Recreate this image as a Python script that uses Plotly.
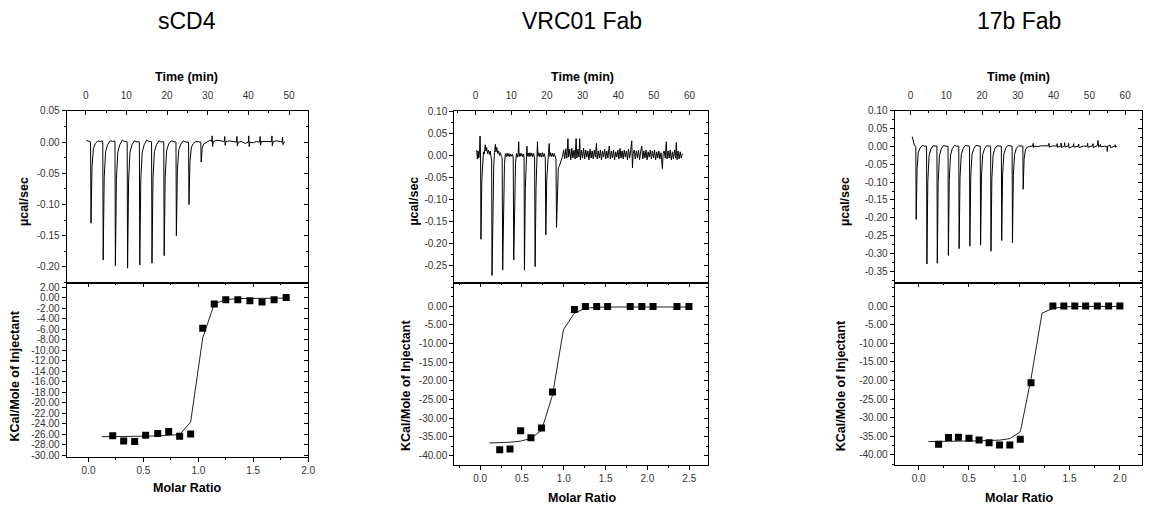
import plotly.graph_objects as go

# ---------------- data ----------------
panel_titles = ["sCD4", "VRC01 Fab", "17b Fab"]

# raw thermograms: (time [min], power [µcal/sec]) vertices
scd4_raw = [
    (0.2, 0.003), (0.7, 0.001), (1.2, 0.000), (1.3, -0.130), (1.55, -0.040), (1.9, -0.010), (2.4, -0.002), (3.0, 0.002), (3.6, 0.001), (4.1, 0.002),
    (4.2, 0.000), (4.3, -0.189), (4.55, -0.057), (4.9, -0.015), (5.4, -0.004), (6.0, 0.002), (6.6, 0.001), (7.1, 0.002),
    (7.2, 0.000), (7.3, -0.198), (7.55, -0.060), (7.9, -0.016), (8.4, -0.004), (9.0, 0.003), (9.6, 0.001), (10.1, 0.001),
    (10.2, 0.000), (10.3, -0.202), (10.55, -0.061), (10.9, -0.016), (11.4, -0.004), (12.0, 0.002), (12.6, 0.000), (13.1, 0.001),
    (13.2, 0.000), (13.3, -0.197), (13.55, -0.059), (13.9, -0.016), (14.4, -0.004), (15.0, 0.003), (15.6, 0.001), (16.1, 0.001),
    (16.2, 0.000), (16.3, -0.194), (16.55, -0.058), (16.9, -0.015), (17.4, -0.004), (18.0, 0.002), (18.6, 0.000), (19.1, 0.001),
    (19.2, 0.000), (19.3, -0.182), (19.55, -0.055), (19.9, -0.014), (20.4, -0.003), (21.0, 0.002), (21.6, 0.001), (22.1, 0.000),
    (22.2, 0.000), (22.3, -0.150), (22.55, -0.045), (22.9, -0.012), (23.4, -0.003), (24.0, 0.002), (24.6, 0.000), (25.2, 0.000),
    (25.3, 0.000), (25.4, -0.100), (25.65, -0.030), (26.0, -0.008), (26.5, -0.002), (27.1, 0.001), (27.7, 0.000), (28.2, 0.000),
    (28.3, 0.000), (28.4, -0.032), (28.65, -0.010), (29.0, -0.003), (29.5, -0.001), (30.1, 0.002),
    (30.6, 0.003), (31.0, 0.001), (31.1, 0.010), (31.2, -0.007), (31.4, 0.001), (32.3, 0.003), (33.2, 0.002), (34.1, 0.001),
    (34.2, 0.009), (34.3, -0.005), (34.5, 0.001), (35.4, 0.002), (36.3, 0.001), (37.1, 0.000), (37.2, 0.009), (37.3, -0.006),
    (37.5, 0.000), (38.3, 0.001), (39.2, -0.002), (40.0, 0.000), (40.1, 0.010), (40.2, -0.007), (40.4, 0.000), (41.2, -0.001),
    (42.0, 0.001), (42.8, 0.000), (42.9, 0.009), (43.0, -0.005), (43.2, 0.001), (44.1, 0.001), (45.0, 0.000), (45.7, 0.001),
    (45.8, 0.010), (45.9, -0.006), (46.1, 0.001), (47.0, 0.002), (47.8, 0.001), (48.3, 0.000), (48.4, 0.008), (48.5, -0.004),
    (48.9, 0.001),
]

vrc01_raw = [
    (0.3, 0.012), (0.5, -0.008), (0.7, 0.010), (0.9, -0.006), (1.1, 0.008), (1.25, 0.044), (1.4, -0.006),
    (1.5, -0.190), (1.75, -0.055), (2.0, -0.015), (2.2, 0.008), (2.45, 0.003), (2.7, 0.024), (2.9, 0.010), (3.1, 0.018),
    (3.35, 0.004), (3.6, 0.012), (3.85, 0.002), (4.1, 0.010), (4.35, -0.004), (4.5, -0.010),
    (4.6, -0.272), (4.85, -0.080), (5.1, -0.020), (5.3, 0.006), (5.55, 0.025), (5.7, 0.008), (5.95, 0.018), (6.2, 0.004),
    (6.45, 0.010), (6.7, 0.000), (6.95, 0.006), (7.2, -0.002), (7.45, -0.006),
    (7.6, -0.260), (7.85, -0.075), (8.1, -0.018), (8.35, 0.004), (8.6, -0.003), (8.85, 0.005), (9.1, -0.002), (9.35, 0.004),
    (9.6, -0.003), (9.85, 0.003), (10.1, -0.002), (10.35, 0.002), (10.55, -0.006),
    (10.7, -0.237), (10.95, -0.070), (11.2, -0.018), (11.45, 0.004), (11.7, -0.004), (11.95, 0.006), (12.1, 0.031), (12.2, -0.003),
    (12.45, 0.005), (12.7, -0.002), (12.95, 0.004), (13.2, -0.003), (13.45, 0.003), (13.6, -0.006),
    (13.7, -0.260), (13.95, -0.075), (14.2, -0.018), (14.4, 0.021), (14.5, -0.002), (14.75, 0.005), (15.0, -0.003), (15.25, 0.006),
    (15.5, -0.002), (15.75, 0.005), (16.0, -0.003), (16.25, 0.004), (16.55, -0.006),
    (16.7, -0.252), (16.95, -0.075), (17.2, -0.018), (17.35, 0.031), (17.5, -0.002), (17.75, 0.006), (18.0, -0.003), (18.25, 0.005),
    (18.5, -0.004), (18.75, 0.006), (19.0, -0.003), (19.25, 0.004), (19.55, -0.006),
    (19.7, -0.180), (19.95, -0.055), (20.2, -0.012), (20.45, 0.006), (20.65, 0.027), (20.8, -0.002), (21.05, 0.006), (21.3, -0.003),
    (21.55, 0.005), (21.8, -0.003), (22.05, 0.004), (22.3, -0.004), (22.55, -0.008),
    (22.7, -0.163), (22.95, -0.050), (23.2, -0.028), (23.5, -0.024), (23.8, -0.018), (24.1, -0.010), (24.4, -0.002),
    (24.7, 0.012), (25.0, -0.008), (25.3, 0.015), (25.6, -0.006), (25.9, 0.038), (26.1, -0.004), (26.4, 0.014), (26.7, -0.010),
    (27.0, 0.016), (27.3, -0.006), (27.6, 0.012), (27.9, -0.008), (28.2, 0.038), (28.4, -0.006), (28.7, 0.014), (29.0, -0.004),
    (29.2, 0.038), (29.4, -0.010), (29.7, 0.012), (30.0, -0.006), (30.3, 0.016), (30.6, -0.008), (30.9, 0.012), (31.2, -0.004),
    (31.5, 0.010), (31.8, -0.010), (32.1, 0.014), (32.4, -0.006), (32.7, 0.010), (33.0, -0.008), (33.3, 0.012), (33.6, -0.004),
    (33.9, 0.027), (34.1, -0.008), (34.4, 0.010), (34.7, -0.006), (35.0, 0.012), (35.3, -0.010), (35.6, 0.010), (35.9, -0.004),
    (36.2, 0.014), (36.5, -0.008), (36.8, 0.010), (37.1, -0.006), (37.5, 0.021), (37.8, -0.008), (38.1, 0.010), (38.4, -0.006),
    (38.7, 0.012), (39.0, -0.010), (39.3, 0.008), (39.6, -0.004), (39.9, 0.012), (40.2, -0.008), (40.5, 0.016), (40.8, -0.006),
    (41.1, 0.010), (41.4, -0.008), (41.7, 0.012), (42.0, -0.004), (42.3, 0.010), (42.6, -0.010), (42.9, 0.014), (43.2, -0.006),
    (43.5, 0.010), (43.8, 0.033), (44.0, -0.028), (44.2, 0.004), (44.5, 0.012), (44.8, -0.008), (45.1, 0.010), (45.4, -0.006),
    (45.7, 0.012), (46.0, -0.010), (46.3, 0.008), (46.6, 0.021), (46.9, -0.008), (47.2, 0.010), (47.5, -0.006), (47.8, 0.012),
    (48.1, -0.010), (48.4, 0.008), (48.7, -0.004), (49.0, 0.012), (49.3, -0.008), (49.6, 0.010), (49.9, -0.006), (50.2, 0.012),
    (50.5, -0.010), (50.8, 0.008), (51.1, -0.006), (51.4, 0.010), (51.7, -0.008), (52.0, 0.006), (52.4, -0.030), (52.6, 0.004),
    (52.9, 0.010), (53.2, -0.006), (53.5, 0.031), (53.7, -0.008), (54.0, 0.010), (54.3, -0.006), (54.6, 0.012), (54.9, -0.010),
    (55.2, 0.008), (55.5, -0.008), (55.8, 0.012), (56.1, -0.006), (56.3, 0.029), (56.5, -0.010), (56.8, 0.010), (57.1, -0.008),
    (57.4, 0.008), (57.7, -0.006), (58.0, 0.004),
]

b17_raw = [
    (0.5, 0.028), (0.8, 0.016), (1.1, 0.003), (1.5, 0.000),
    (1.6, -0.205), (1.85, -0.062), (2.2, -0.016), (2.7, -0.004), (3.3, 0.003), (3.9, 0.001), (4.5, 0.001),
    (4.6, -0.330), (4.85, -0.099), (5.2, -0.026), (5.7, -0.007), (6.3, 0.002), (6.9, 0.001), (7.4, 0.001),
    (7.5, -0.328), (7.75, -0.098), (8.1, -0.026), (8.6, -0.007), (9.2, 0.003), (9.8, 0.001), (10.5, 0.001),
    (10.6, -0.306), (10.85, -0.092), (11.2, -0.024), (11.7, -0.006), (12.3, 0.003), (12.9, 0.001), (13.5, 0.001),
    (13.6, -0.287), (13.85, -0.086), (14.2, -0.023), (14.7, -0.006), (15.3, 0.003), (15.9, 0.001), (16.5, 0.001),
    (16.6, -0.280), (16.85, -0.084), (17.2, -0.022), (17.7, -0.006), (18.3, 0.003), (18.9, 0.001), (19.5, 0.001),
    (19.6, -0.277), (19.85, -0.083), (20.2, -0.022), (20.7, -0.006), (21.3, 0.002), (21.9, 0.001), (22.4, 0.001),
    (22.5, -0.294), (22.75, -0.088), (23.1, -0.024), (23.6, -0.006), (24.2, 0.002), (24.8, 0.001), (25.4, 0.001),
    (25.5, -0.264), (25.75, -0.079), (26.1, -0.021), (26.6, -0.005), (27.2, 0.003), (27.8, 0.001), (28.4, 0.001),
    (28.5, -0.270), (28.75, -0.081), (29.1, -0.022), (29.6, -0.005), (30.2, 0.002), (30.8, 0.001), (31.4, 0.001),
    (31.5, -0.120), (31.75, -0.036), (32.1, -0.010), (32.6, -0.002), (33.2, 0.000),
    (34.2, 0.001), (34.3, 0.009), (34.4, -0.003), (34.6, 0.001), (35.6, 0.000), (36.6, 0.002), (37.6, 0.001), (38.6, 0.002),
    (38.7, 0.009), (38.8, -0.002), (39.8, 0.002), (40.9, 0.001), (41.0, 0.008), (41.1, -0.002), (42.0, 0.001), (42.1, 0.010),
    (42.2, -0.003), (43.0, 0.002), (43.1, 0.011), (43.2, -0.002), (44.1, 0.002), (44.2, 0.009), (44.3, -0.004), (45.5, 0.001),
    (45.6, 0.008), (45.7, -0.002), (46.9, 0.001), (47.0, 0.007), (47.1, -0.003), (48.3, 0.001), (49.4, 0.001), (49.5, 0.009),
    (49.6, -0.002), (50.9, 0.002), (51.0, 0.008), (51.1, -0.003), (52.2, 0.002), (52.4, 0.017), (52.6, -0.002), (53.1, 0.006),
    (53.2, -0.001), (54.2, 0.001), (54.9, 0.000), (55.0, -0.014), (55.1, 0.001), (55.8, 0.004), (55.9, -0.003), (57.1, 0.001),
    (57.2, 0.005), (57.3, -0.002), (57.7, 0.000),
]

# integrated heats (molar ratio, kcal/mol of injectant)
scd4_ratio = [0.22, 0.32, 0.42, 0.52, 0.63, 0.73, 0.83, 0.93, 1.04, 1.145, 1.25, 1.36, 1.47, 1.58, 1.69, 1.80]
scd4_heat = [-26.3, -27.3, -27.4, -26.2, -25.9, -25.5, -26.4, -26.0, -5.85, -1.24, -0.44, -0.44, -0.62, -0.87, -0.44, 0.0]
scd4_fit_ratio = [0.12, 0.22, 0.32, 0.42, 0.52, 0.63, 0.73, 0.83, 0.93, 1.04, 1.145, 1.25, 1.36, 1.47, 1.58, 1.69, 1.80]
scd4_fit_heat = [-26.5, -26.5, -26.5, -26.5, -26.4, -26.35, -26.25, -26.1, -23.7, -7.7, -1.2, -0.4, -0.2, -0.15, -0.12, -0.1, -0.1]

vrc01_ratio = [0.234, 0.357, 0.484, 0.607, 0.734, 0.865, 1.127, 1.258, 1.393, 1.524, 1.794, 1.933, 2.067, 2.353, 2.496]
vrc01_heat = [-38.4, -38.2, -33.3, -35.2, -32.6, -23.0, -0.9, -0.1, -0.1, -0.1, -0.1, -0.1, -0.1, -0.1, -0.1]
vrc01_fit_ratio = [0.11, 0.234, 0.357, 0.484, 0.607, 0.734, 0.865, 0.996, 1.127, 1.258, 1.393, 1.524, 1.66, 1.794, 1.933, 2.067, 2.21, 2.353, 2.496]
vrc01_fit_heat = [-36.6, -36.5, -36.4, -36.1, -35.4, -33.2, -23.8, -6.3, -1.9, -0.6, -0.3, -0.25, -0.25, -0.25, -0.25, -0.25, -0.25, -0.25, -0.25]

b17_ratio = [0.198, 0.297, 0.395, 0.50, 0.60, 0.70, 0.804, 0.906, 1.01, 1.117, 1.334, 1.443, 1.552, 1.66, 1.776, 1.888, 2.0]
b17_heat = [-37.1, -35.3, -35.25, -35.5, -35.95, -36.7, -37.3, -37.3, -35.8, -20.6, 0.0, 0.0, 0.0, 0.0, 0.0, 0.0, 0.0]
b17_fit_ratio = [0.096, 0.198, 0.297, 0.395, 0.50, 0.60, 0.70, 0.804, 0.906, 1.01, 1.117, 1.226, 1.334, 1.443, 1.552, 1.66, 1.776, 1.888, 2.0]
b17_fit_heat = [-36.4, -36.4, -36.35, -36.3, -36.25, -36.2, -36.1, -36.0, -35.6, -33.8, -19.5, -1.9, -0.6, -0.2, -0.1, -0.1, -0.1, -0.1, -0.1]

# tick labels
scd4_time_ticks = [0, 10, 20, 30, 40, 50]
fab_time_ticks = [0, 10, 20, 30, 40, 50, 60]
scd4_power_ticks = [0.05, 0.00, -0.05, -0.10, -0.15, -0.20]
vrc01_power_ticks = [0.10, 0.05, 0.00, -0.05, -0.10, -0.15, -0.20, -0.25]
b17_power_ticks = [0.10, 0.05, 0.00, -0.05, -0.10, -0.15, -0.20, -0.25, -0.30, -0.35]
scd4_heat_ticks = [2, 0, -2, -4, -6, -8, -10, -12, -14, -16, -18, -20, -22, -24, -26, -28, -30]
fab_heat_ticks = [0, -5, -10, -15, -20, -25, -30, -35, -40]
scd4_ratio_ticks = [0.0, 0.5, 1.0, 1.5, 2.0]
vrc01_ratio_ticks = [0.0, 0.5, 1.0, 1.5, 2.0, 2.5]
b17_ratio_ticks = [0.0, 0.5, 1.0, 1.5, 2.0]

time_title = "Time (min)"
power_title = "µcal/sec"
heat_title = "KCal/Mole of Injectant"
ratio_title = "Molar Ratio"

# ---------------- layout geometry ----------------
W, H = 1151, 514


def fx(p):
    return p / W


def fy(p):
    return 1 - p / H


FONT = "Liberation Sans, Arial, Helvetica, sans-serif"
TICKFONT = dict(family=FONT, size=10, color="#333333")

panels = [
    dict(raw=scd4_raw, ratio=scd4_ratio, heat=scd4_heat, fr=scd4_fit_ratio, fh=scd4_fit_heat,
         tt=scd4_time_ticks, pt=scd4_power_ticks, ht=scd4_heat_ticks, rt=scd4_ratio_ticks,
         x0=67, x1=310, top=107, mid=282, bot=460,
         trange=[-4.7, 54.7], prange=[-0.225, 0.05], rrange=[-0.2, 2.0], hrange=[-30.37, 2.86],
         pminor=0.025, hminor=None, cx=188, plab_x=24, hlab_x=15, hlab_y=377, mr_y=492),
    dict(raw=vrc01_raw, ratio=vrc01_ratio, heat=vrc01_heat, fr=vrc01_fit_ratio, fh=vrc01_fit_heat,
         tt=fab_time_ticks, pt=vrc01_power_ticks, ht=fab_heat_ticks, rt=vrc01_ratio_ticks,
         x0=457, x1=712, top=107, mid=282, bot=468,
         trange=[-6.0, 65.1], prange=[-0.288, 0.1007], rrange=[-0.31, 2.72], hrange=[-42.46, 6.3],
         pminor=0.025, hminor=2.5, cx=586, plab_x=417, hlab_x=409, hlab_y=387, mr_y=502),
    dict(raw=b17_raw, ratio=b17_ratio, heat=b17_heat, fr=b17_fit_ratio, fh=b17_fit_heat,
         tt=fab_time_ticks, pt=b17_power_ticks, ht=fab_heat_ticks, rt=b17_ratio_ticks,
         x0=900, x1=1149, top=107, mid=282, bot=468,
         trange=[-4.45, 64.7], prange=[-0.382, 0.1], rrange=[-0.24, 2.22], hrange=[-42.66, 6.33],
         pminor=0.025, hminor=2.5, cx=1025, plab_x=850, hlab_x=847, hlab_y=387, mr_y=502),
]


def axis(**kw):
    d = dict(showgrid=False, zeroline=False, showline=True, linecolor="black", linewidth=1,
             tickcolor="black", tickwidth=1, ticklen=4, tickfont=TICKFONT)
    d.update(kw)
    return d


def minor(dtick, ticks):
    return dict(tickmode="linear", tick0=0, dtick=dtick, ticks=ticks, ticklen=2,
                tickcolor="black", tickwidth=1, showgrid=False)


def xid(n):
    return "x" if n == 1 else f"x{n}"


def yid(n):
    return "y" if n == 1 else f"y{n}"


def xkey(n):
    return "xaxis" if n == 1 else f"xaxis{n}"


def ykey(n):
    return "yaxis" if n == 1 else f"yaxis{n}"


fig = go.Figure()
layout = {}
annotations = []
nx, ny = 0, 0

for i, P in enumerate(panels):
    xT, xB, xBT = nx + 1, nx + 2, nx + 3
    yT, yTR, yB, yBR = ny + 1, ny + 2, ny + 3, ny + 4
    nx += 3
    ny += 4
    dom_x = [fx(P["x0"]), fx(P["x1"])]

    # ---- top: raw thermogram ----
    layout[xkey(xT)] = axis(domain=dom_x, anchor=yid(yT), side="top", range=P["trange"],
                            tickmode="array", tickvals=P["tt"], ticktext=[str(v) for v in P["tt"]],
                            ticks="inside", mirror=True, minor=minor(5, "inside"),
                            ticklabelstandoff=7)
    layout[ykey(yT)] = axis(domain=[fy(P["mid"]), fy(P["top"])], anchor=xid(xT), range=P["prange"],
                            tickmode="array", tickvals=P["pt"], ticktext=[f"{v:.2f}" for v in P["pt"]],
                            ticks="outside", minor=minor(P["pminor"], "outside"))
    layout[ykey(yTR)] = axis(overlaying=yid(yT), anchor=xid(xT), side="right", range=P["prange"],
                             tickmode="array", tickvals=P["pt"], showticklabels=False,
                             ticks="inside", minor=minor(P["pminor"], "inside"))

    ts = [p[0] for p in P["raw"]]
    vs = [p[1] for p in P["raw"]]
    fig.add_trace(go.Scatter(x=ts, y=vs, mode="lines", line=dict(color="black", width=1),
                             xaxis=xid(xT), yaxis=yid(yT), hoverinfo="skip"))
    fig.add_trace(go.Scatter(x=[None], y=[None], mode="markers", xaxis=xid(xT), yaxis=yid(yTR),
                             hoverinfo="skip"))

    # ---- bottom: integrated heats ----
    hmin = minor(P["hminor"], "outside") if P["hminor"] else None
    hmin_in = minor(P["hminor"], "inside") if P["hminor"] else None
    layout[xkey(xB)] = axis(domain=dom_x, anchor=yid(yB), range=P["rrange"],
                            tickmode="array", tickvals=P["rt"], ticktext=[f"{v:.1f}" for v in P["rt"]],
                            ticks="outside", minor=minor(0.25, "outside"))
    layout[xkey(xBT)] = axis(overlaying=xid(xB), anchor=yid(yB), side="top", range=P["rrange"],
                             tickmode="array", tickvals=P["rt"], showticklabels=False,
                             ticks="inside", minor=minor(0.25, "inside"))
    yb = axis(domain=[fy(P["bot"]), fy(P["mid"])], anchor=xid(xB), range=P["hrange"],
              tickmode="array", tickvals=P["ht"], ticktext=[f"{v:.2f}" for v in P["ht"]],
              ticks="outside")
    ybr = axis(overlaying=yid(yB), anchor=xid(xB), side="right", range=P["hrange"],
               tickmode="array", tickvals=P["ht"], showticklabels=False, ticks="inside")
    if hmin:
        yb["minor"] = hmin
        ybr["minor"] = hmin_in
    layout[ykey(yB)] = yb
    layout[ykey(yBR)] = ybr

    fig.add_trace(go.Scatter(x=P["fr"], y=P["fh"], mode="lines", line=dict(color="#222222", width=1),
                             xaxis=xid(xB), yaxis=yid(yB), hoverinfo="skip"))
    fig.add_trace(go.Scatter(x=P["ratio"], y=P["heat"], mode="markers",
                             marker=dict(symbol="square", size=7, color="black", line=dict(width=0)),
                             xaxis=xid(xB), yaxis=yid(yB), hoverinfo="skip"))
    fig.add_trace(go.Scatter(x=[None], y=[None], mode="markers", xaxis=xid(xBT), yaxis=yid(yBR),
                             hoverinfo="skip"))

    # ---- texts ----
    annotations.append(dict(text=panel_titles[i], x=fx(P["cx"]), y=fy(15), xref="paper", yref="paper",
                            showarrow=False, xanchor="center", yanchor="middle",
                            font=dict(family=FONT, size=23, color="black")))
    annotations.append(dict(text=f"<b>{time_title}</b>", x=fx(P["cx"]), y=fy(72), xref="paper", yref="paper",
                            showarrow=False, xanchor="center", yanchor="middle",
                            font=dict(family=FONT, size=12.5, color="black")))
    annotations.append(dict(text=f"<b>{power_title}</b>", x=fx(P["plab_x"]), y=fy(199), xref="paper",
                            yref="paper", showarrow=False, xanchor="center", yanchor="middle", textangle=-90,
                            font=dict(family=FONT, size=12.5, color="black")))
    annotations.append(dict(text=f"<b>{heat_title}</b>", x=fx(P["hlab_x"]), y=fy(P["hlab_y"]), xref="paper",
                            yref="paper", showarrow=False, xanchor="center", yanchor="middle", textangle=-90,
                            font=dict(family=FONT, size=12.5, color="black")))
    annotations.append(dict(text=f"<b>{ratio_title}</b>", x=fx(P["cx"]), y=fy(P["mr_y"]), xref="paper",
                            yref="paper", showarrow=False, xanchor="center", yanchor="middle",
                            font=dict(family=FONT, size=12.5, color="black")))

fig.update_layout(**layout)
fig.update_layout(width=W, height=H, margin=dict(l=0, r=0, t=0, b=0), paper_bgcolor="white",
                  plot_bgcolor="white", showlegend=False, annotations=annotations)

fig.write_html("out.html")
